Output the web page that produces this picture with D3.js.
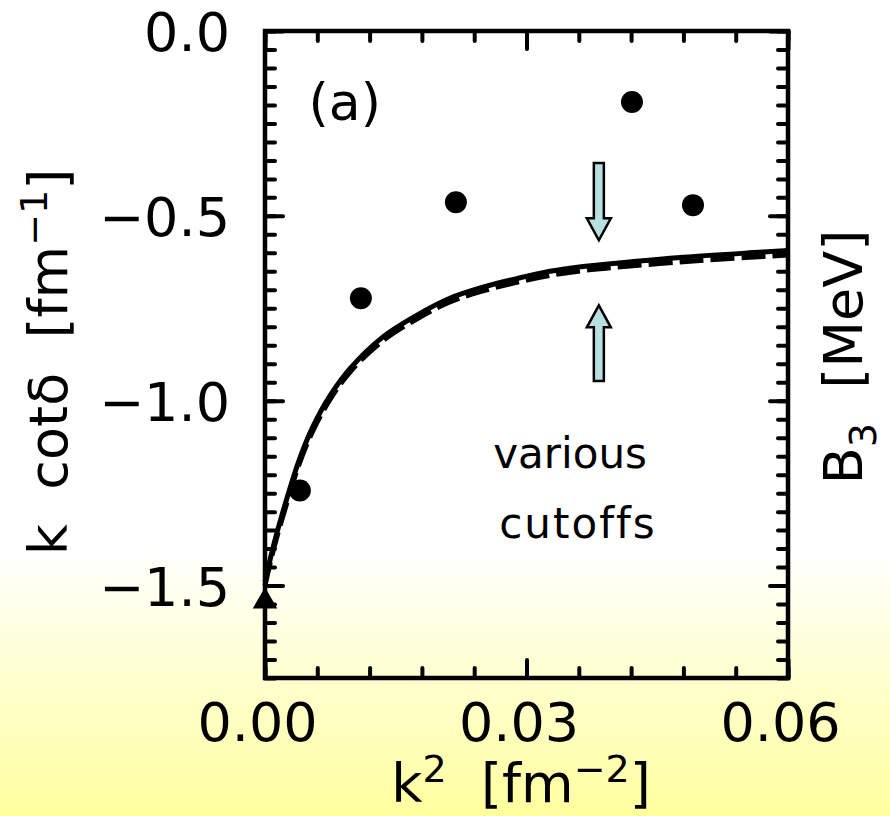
<!DOCTYPE html>
<html>
<head>
<meta charset="utf-8">
<script src="https://cdn.jsdelivr.net/npm/d3@7"></script>
<style>
  html, body { margin: 0; padding: 0; background: #fff; }
  text { font-family: "DejaVu Sans", sans-serif; fill: #000; white-space: pre; }
</style>
</head>
<body>
<div id="chart"></div>
<script>
(function(){

    const width = 890;
    const height = 816;

    // data
    const pointK2 = [0.0040, 0.0110, 0.0219, 0.0421, 0.0491];
    const pointKcot = [-1.243, -0.723, -0.463, -0.192, -0.471];

    const triangleK2 = [0.0];
    const triangleKcot = [-1.543];

    const curveK2 = [0, 0.001, 0.0025, 0.004, 0.0055, 0.0075, 0.0098, 0.0135, 0.0174, 0.0212, 0.025, 0.029, 0.0327, 0.0365, 0.0403, 0.048, 0.0556, 0.06];
    const solidKcot = [-1.49, -1.39, -1.265, -1.155, -1.07, -0.985, -0.912, -0.828, -0.769, -0.723, -0.693, -0.669, -0.650, -0.637, -0.628, -0.612, -0.600, -0.594];
    const dashedKcot = [-1.50, -1.40, -1.277, -1.166, -1.081, -0.995, -0.921, -0.838, -0.779, -0.733, -0.703, -0.679, -0.661, -0.648, -0.639, -0.624, -0.612, -0.606];

    const xMajorTicks = [0.00, 0.03, 0.06];
    const xTickLabels = ['0.00', '0.03', '0.06'];
    const yMajorTicks = [0.0, -0.5, -1.0, -1.5];
    const yTickLabels = ['0.0', '\u22120.5', '\u22121.0', '\u22121.5'];

    // arrows: x position, tail and tip (k cot delta)
    const arrowK2 = [0.0383, 0.0383];
    const arrowTail = [-0.357, -0.947];
    const arrowTip = [-0.566, -0.742];

    const svg = d3.select("#chart")
        .append("svg")
        .attr("width", width)
        .attr("height", height);

    // background: white fading into pale yellow at the bottom
    const grad = svg.append("defs").append("linearGradient")
        .attr("id", "bg")
        .attr("x1", 0).attr("y1", 0).attr("x2", 0).attr("y2", 1);
    grad.append("stop").attr("offset", "0.67").attr("stop-color", "#ffffff");
    grad.append("stop").attr("offset", "1").attr("stop-color", "#ffff9e");
    svg.append("rect")
        .attr("width", width).attr("height", height)
        .attr("fill", "url(#bg)");

    const x = d3.scaleLinear().domain([0, 0.06]).range([265, 788]);
    const y = d3.scaleLinear().domain([-1.75, 0]).range([678, 31]);

    const xMinor = d3.range(0, 11).map(i => i * 0.006);
    const yMinor = d3.range(0, 36).map(i => -i * 0.05);

    function styleAxis(g){
        g.select(".domain").remove();
        g.selectAll(".tick line")
            .attr("stroke", "#000")
            .attr("stroke-width", 4)
            .attr("stroke-linecap", "round");
        g.selectAll(".tick text")
            .style("font-size", "54px")
            .style("font-family", "'DejaVu Sans', sans-serif")
            .attr("fill", "#000");
    }

    // minor ticks on all four sides
    svg.append("g").attr("transform", `translate(${x(0)},0)`)
        .call(d3.axisLeft(y).tickValues(yMinor).tickSize(-10).tickFormat(""))
        .call(styleAxis);
    svg.append("g").attr("transform", `translate(${x(0.06)},0)`)
        .call(d3.axisRight(y).tickValues(yMinor).tickSize(-10).tickFormat(""))
        .call(styleAxis);
    svg.append("g").attr("transform", `translate(0,${y(-1.75)})`)
        .call(d3.axisBottom(x).tickValues(xMinor).tickSize(-10).tickFormat(""))
        .call(styleAxis);
    svg.append("g").attr("transform", `translate(0,${y(0)})`)
        .call(d3.axisTop(x).tickValues(xMinor).tickSize(-10).tickFormat(""))
        .call(styleAxis);

    // major ticks + labels
    svg.append("g").attr("transform", `translate(${x(0)},0)`)
        .call(d3.axisLeft(y).tickValues(yMajorTicks).tickSize(-18).tickPadding(35)
            .tickFormat((d, i) => yTickLabels[i]))
        .call(styleAxis)
        .selectAll(".tick text").attr("dy", "0.36em");
    svg.append("g").attr("transform", `translate(${x(0.06)},0)`)
        .call(d3.axisRight(y).tickValues(yMajorTicks).tickSize(-18).tickFormat(""))
        .call(styleAxis);
    svg.append("g").attr("transform", `translate(0,${y(-1.75)})`)
        .call(d3.axisBottom(x).tickValues(xMajorTicks).tickSize(-18).tickPadding(25)
            .tickFormat((d, i) => xTickLabels[i]))
        .call(styleAxis)
        .selectAll(".tick text").attr("dx", "-8");
    svg.append("g").attr("transform", `translate(0,${y(0)})`)
        .call(d3.axisTop(x).tickValues(xMajorTicks).tickSize(-18).tickFormat(""))
        .call(styleAxis);

    // frame
    svg.append("rect")
        .attr("x", x(0)).attr("y", y(0))
        .attr("width", x(0.06) - x(0))
        .attr("height", y(-1.75) - y(0))
        .attr("fill", "none")
        .attr("stroke", "#000")
        .attr("stroke-width", 4.5);

    // curves
    const line = d3.line()
        .x(d => x(d[0]))
        .y(d => y(d[1]))
        .curve(d3.curveCatmullRom);

    svg.append("path")
        .datum(curveK2.map((k, i) => [k, dashedKcot[i]]))
        .attr("d", line)
        .attr("fill", "none")
        .attr("stroke", "#000")
        .attr("stroke-width", 5)
        .attr("stroke-dasharray", "24,7");

    svg.append("path")
        .datum(curveK2.map((k, i) => [k, solidKcot[i]]))
        .attr("d", line)
        .attr("fill", "none")
        .attr("stroke", "#000")
        .attr("stroke-width", 5);

    // data points
    svg.selectAll(".pt")
        .data(pointK2.map((k, i) => [k, pointKcot[i]]))
        .enter().append("circle")
        .attr("class", "pt")
        .attr("cx", d => x(d[0]))
        .attr("cy", d => y(d[1]))
        .attr("r", 11)
        .attr("fill", "#000");

    svg.selectAll(".tri")
        .data(triangleK2.map((k, i) => [k, triangleKcot[i]]))
        .enter().append("path")
        .attr("class", "tri")
        .attr("d", d3.symbol().type(d3.symbolTriangle).size(260))
        .attr("transform", d => `translate(${x(d[0])},${y(d[1])})`)
        .attr("fill", "#000");

    // arrows
    function arrowPath(k, tail, tip){
        const cx = x(k), y0 = y(tail), y1 = y(tip);
        const dir = y1 > y0 ? 1 : -1;
        const hb = y1 - dir * 22;
        return `M${cx-5},${y0} L${cx+5},${y0} L${cx+5},${hb} L${cx+12},${hb} L${cx},${y1} L${cx-12},${hb} L${cx-5},${hb} Z`;
    }
    svg.selectAll(".arrow")
        .data(arrowK2.map((k, i) => [k, arrowTail[i], arrowTip[i]]))
        .enter().append("path")
        .attr("class", "arrow")
        .attr("d", d => arrowPath(d[0], d[1], d[2]))
        .attr("fill", "#b9e0e0")
        .attr("stroke", "#000")
        .attr("stroke-width", 2.5)
        .attr("stroke-linejoin", "miter");

    // annotations
    svg.append("text")
        .attr("x", x(0.0050)).attr("y", y(-0.241))
        .style("font-size", "52px")
        .text("(a)");
    svg.append("text")
        .attr("x", x(0.035)).attr("y", y(-1.183))
        .attr("text-anchor", "middle")
        .style("font-size", "42px")
        .text("various");
    svg.append("text")
        .attr("x", x(0.0359)).attr("y", y(-1.372))
        .attr("text-anchor", "middle")
        .style("font-size", "42px")
        .style("letter-spacing", "2px")
        .text("cutoffs");

    // axis titles
    const xt = svg.append("text")
        .attr("x", 521).attr("y", 802)
        .attr("text-anchor", "middle")
        .style("font-size", "54px");
    xt.append("tspan").text("k");
    xt.append("tspan").attr("dy", -20).style("font-size", "38px").text("2");
    xt.append("tspan").attr("dy", 20).text("  [fm");
    xt.append("tspan").attr("dy", -20).style("font-size", "38px").text("\u22122");
    xt.append("tspan").attr("dy", 20).text("]");

    const yt = svg.append("text")
        .attr("transform", "translate(67,362) rotate(-90)")
        .attr("text-anchor", "middle")
        .style("font-size", "54px");
    yt.append("tspan").text("k  cot\u03b4  [fm");
    yt.append("tspan").attr("dy", -20).style("font-size", "38px").text("\u22121");
    yt.append("tspan").attr("dy", 20).text("]");

    const rt = svg.append("text")
        .attr("transform", "translate(862,357) rotate(-90)")
        .attr("text-anchor", "middle")
        .style("font-size", "54px");
    rt.append("tspan").text("B");
    rt.append("tspan").attr("dy", 14).style("font-size", "38px").text("3");
    rt.append("tspan").attr("dy", -14).text("  [MeV]");

}());
</script>
</body>
</html>
